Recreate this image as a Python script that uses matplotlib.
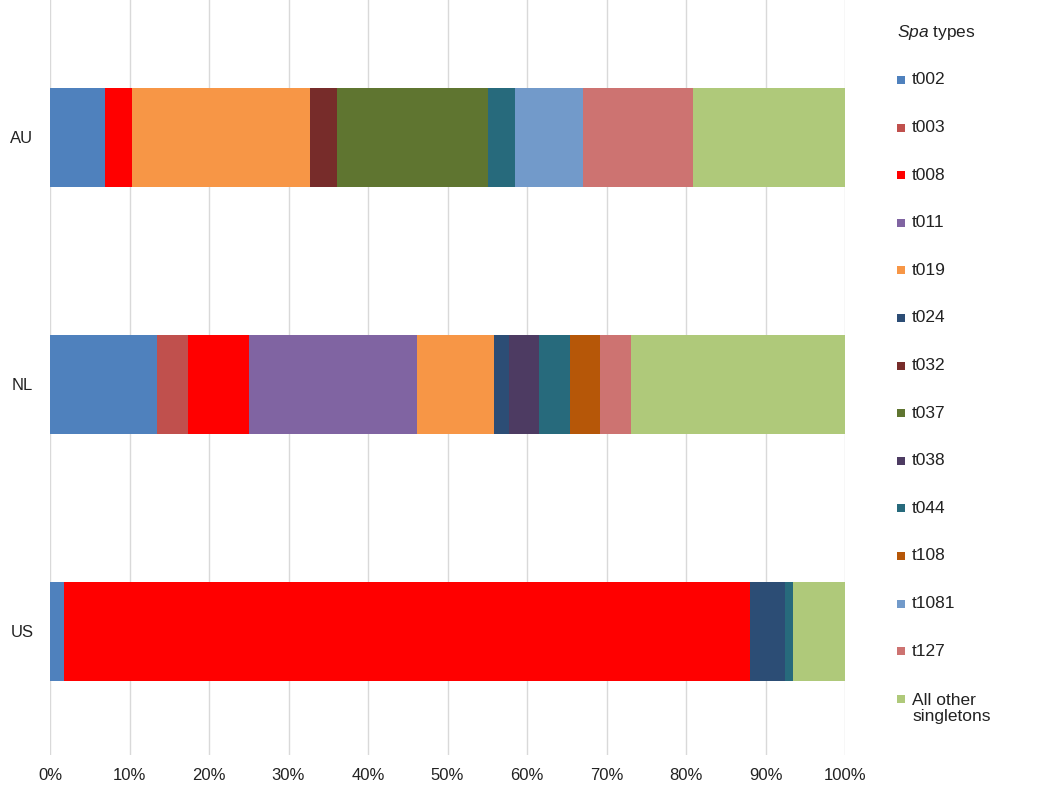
import matplotlib
matplotlib.use("Agg")
import matplotlib.pyplot as plt
from matplotlib.patches import Rectangle
import numpy as np

plt.rcParams['font.family'] = ['Liberation Sans', 'DejaVu Sans']
plt.rcParams['mathtext.fontset'] = 'custom'
plt.rcParams['mathtext.it'] = 'Liberation Sans:italic'
plt.rcParams['mathtext.rm'] = 'Liberation Sans'

countries = ['AU', 'NL', 'US']
spa_types = ['t002', 't003', 't008', 't011', 't019', 't024', 't032', 't037',
             't038', 't044', 't108', 't1081', 't127', 'All other\nsingletons']

# share (%) of each spa type per country: AU, NL, US
t002 = [6.9, 13.5, 1.8]
t003 = [0, 3.8, 0]
t008 = [3.4, 7.7, 86.3]
t011 = [0, 21.2, 0]
t019 = [22.4, 9.6, 0]
t024 = [0, 1.9, 4.4]
t032 = [3.4, 0, 0]
t037 = [19.0, 0, 0]
t038 = [0, 3.8, 0]
t044 = [3.4, 3.9, 0.9]
t108 = [0, 3.8, 0]
t1081 = [8.6, 0, 0]
t127 = [13.8, 3.9, 0]
others = [19.1, 26.9, 6.6]

series = [t002, t003, t008, t011, t019, t024, t032, t037,
          t038, t044, t108, t1081, t127, others]
colors = ['#4F81BD', '#C0504D', '#FF0000', '#8064A2', '#F79646', '#2C4D75',
          '#772C2A', '#5F7530', '#4D3B62', '#276A7C', '#B65708', '#729ACA',
          '#CD7371', '#AFC97A']

W, H = 1050, 790
fig = plt.figure(figsize=(W/100, H/100), dpi=100)
ax = fig.add_axes([50/W, 1 - 755/H, 795/W, 755/H])

y = np.arange(len(countries))
left = np.zeros(len(countries))
for vals, col in zip(series, colors):
    vals = np.array(vals)
    ax.barh(y, vals, left=left, height=0.4, color=col, linewidth=0, zorder=3)
    left += vals

ax.set_xlim(0, 100)
ax.set_ylim(2.5, -0.555)
ax.set_xticks(np.arange(0, 101, 10))
ax.set_xticklabels([f'{v}%' for v in range(0, 101, 10)], fontsize=12, color='#222222')
ax.set_yticks(y)
ax.set_yticklabels(countries, fontsize=12, color='#222222')
ax.tick_params(axis='x', length=0, pad=9)
ax.tick_params(axis='y', length=0, pad=12)
ax.grid(axis='x', color='#D9D9D9', linewidth=1, zorder=0)
for s in ax.spines.values():
    s.set_visible(False)

# legend drawn by hand so the two-line entry lines up like the original
fig.text(897/W, 1 - 33/H, r'$\mathit{Spa}$ types', fontsize=12.5, color='#222222', va='center', ha='left')
for i, (lab, col) in enumerate(zip(spa_types, colors)):
    yc = 80 + 47.6*i
    fig.patches.append(Rectangle((897/W, 1 - (yc + 4)/H), 8/W, 8/H,
                                 transform=fig.transFigure, facecolor=col, edgecolor='none'))
    ty = yc + 10 if '\n' in lab else yc
    fig.text(912/W, 1 - ty/H, lab, fontsize=12.5, color='#222222', va='center', ha='left',
             linespacing=1.1)

fig.savefig('out.png', dpi=100)
